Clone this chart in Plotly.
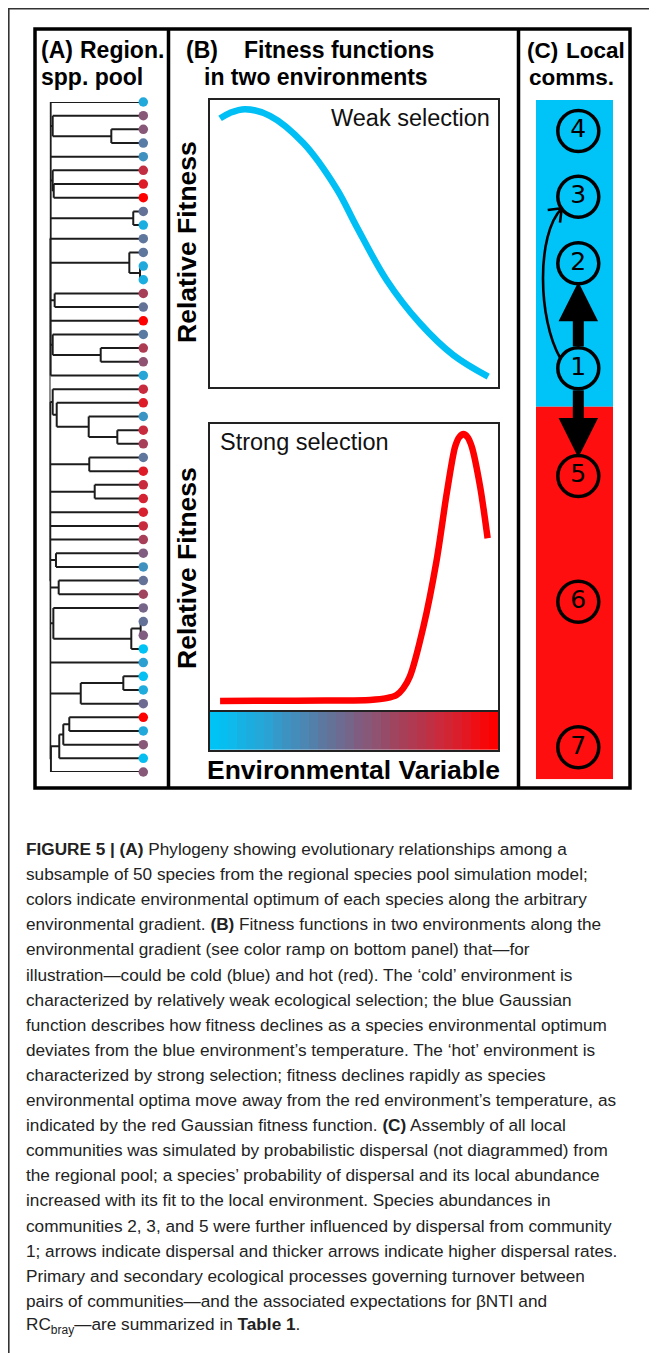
import plotly.graph_objects as go

# page geometry: the figure sits at the browser's default 8px body margin
OFF = 8
W, H = 657 - OFF, 1353 - OFF

# ---------------- DATA ----------------
# Panel A: phylogeny of 50 species (tips numbered top -> bottom).
# Internal node labels = node depth (0 = root, tips = 100).
tree_newick = ("((1,(2,(3,4)65.9)3.4,5,(6,(7,8)4.5)3.4,(9,10)89.3,11,(12,(13,14)96.5)85.1,"
               "(15,16)5.5,17,(18,(19,20)54.6)3.4,21)1.2,"
               "((22,(23,(24,(25,26)72.3)41.8)7.7)3.4,(27,28)42.4,(29,30)48.2,31,32,33,(34,35)6.9,"
               "(36,37)9.8,(38,((39,40)97.2,41)87.2)4.1,42,((43,44)78.7,45)33.3,"
               "((((46,47)21.1,48)14.7,49)10.4,50)1.5)0.8)0")
tip_depth = 100.0
# environmental optimum of each tip (0 = cold/blue, 1 = hot/red)
tip_optimum = [0.15, 0.55, 0.55, 0.37, 0.27, 0.78, 0.88, 1.00, 0.42, 0.12,
               0.40, 0.40, 0.15, 0.12, 0.68, 0.42, 1.00, 0.38, 0.70, 0.58,
               0.17, 0.80, 0.88, 0.25, 0.80, 0.68, 0.40, 0.88, 0.80, 0.85,
               0.86, 0.80, 0.68, 0.52, 0.27, 0.42, 0.65, 0.48, 0.42, 0.52,
               0.00, 0.20, 0.02, 0.14, 0.45, 1.00, 0.15, 0.55, 0.03, 0.55]

env_colorscale = [[0.00, "rgb(0,195,245)"], [0.20, "rgb(45,160,210)"],
                  [0.38, "rgb(90,122,162)"], [0.51, "rgb(125,95,130)"],
                  [0.67, "rgb(165,65,90)"], [0.85, "rgb(212,35,50)"],
                  [1.00, "rgb(255,0,0)"]]

# Panel B: fitness functions (env. variable 0..1, relative fitness 0..1)
weak_x = [0.035, 0.069, 0.122, 0.208, 0.324, 0.440, 0.509, 0.613, 0.729, 0.845, 0.966]
weak_y = [0.936, 0.955, 0.968, 0.945, 0.850, 0.690, 0.559, 0.373, 0.222, 0.111, 0.036]
strong_x = [0.035, 0.200, 0.400, 0.556, 0.613, 0.648, 0.671, 0.694, 0.741, 0.787,
            0.822, 0.851, 0.866, 0.880, 0.894, 0.909, 0.938, 0.964]
strong_y = [0.037, 0.038, 0.039, 0.041, 0.047, 0.058, 0.081, 0.122, 0.295, 0.527,
            0.759, 0.921, 0.955, 0.965, 0.955, 0.921, 0.782, 0.603]
ramp_steps = [0.00, 0.03, 0.06, 0.10, 0.13, 0.16, 0.19, 0.23, 0.26, 0.29, 0.32,
              0.35, 0.39, 0.42, 0.45, 0.48, 0.52, 0.55, 0.58, 0.61, 0.65, 0.68,
              0.71, 0.74, 0.77, 0.81, 0.84, 0.87, 0.90, 0.94, 0.97, 1.00]

# Panel C: local communities along the gradient (position from bottom)
comm_labels = ["1", "2", "3", "4", "5", "6", "7"]
comm_pos = [411.0, 516.0, 582.6, 648.3, 303.3, 177.6, 32.0]
comm_x = 42.3
env_boundary = 372.6
col_width = 77.0
col_height = 679.3
strong_dispersal = [("1", "2"), ("1", "5")]
weak_dispersal = [("1", "3")]

caption_lines = [
    "<b>FIGURE 5 | (A)</b> Phylogeny showing evolutionary relationships among a",
    "subsample of 50 species from the regional species pool simulation model;",
    "colors indicate environmental optimum of each species along the arbitrary",
    "environmental gradient. <b>(B)</b> Fitness functions in two environments along the",
    "environmental gradient (see color ramp on bottom panel) that\u2014for",
    "illustration\u2014could be cold (blue) and hot (red). The \u2018cold\u2019 environment is",
    "characterized by relatively weak ecological selection; the blue Gaussian",
    "function describes how fitness declines as a species environmental optimum",
    "deviates from the blue environment\u2019s temperature. The \u2018hot\u2019 environment is",
    "characterized by strong selection; fitness declines rapidly as species",
    "environmental optima move away from the red environment\u2019s temperature, as",
    "indicated by the red Gaussian fitness function. <b>(C)</b> Assembly of all local",
    "communities was simulated by probabilistic dispersal (not diagrammed) from",
    "the regional pool; a species\u2019 probability of dispersal and its local abundance",
    "increased with its fit to the local environment. Species abundances in",
    "communities 2, 3, and 5 were further influenced by dispersal from community",
    "1; arrows indicate dispersal and thicker arrows indicate higher dispersal rates.",
    "Primary and secondary ecological processes governing turnover between",
    "pairs of communities\u2014and the associated expectations for \u03b2NTI and",
    "RC<sub>bray</sub>\u2014are summarized in <b>Table 1</b>.",
]

# ---------------- helpers ----------------
FONT = "Liberation Sans, Arial, Helvetica, sans-serif"


def px(x):
    return (x - OFF) / W


def py(y):
    return 1 - (y - OFF) / H


def xdom(a, b):
    return [px(a), px(b)]


def ydom(top, bottom):
    return [py(bottom), py(top)]


def parse_newick(s):
    pos = 0

    def label():
        nonlocal pos
        st = pos
        while pos < len(s) and s[pos] not in ",()":
            pos += 1
        return s[st:pos]

    def node():
        nonlocal pos
        if s[pos] == "(":
            pos += 1
            kids = [node()]
            while s[pos] == ",":
                pos += 1
                kids.append(node())
            pos += 1  # ')'
            return {"depth": float(label()), "kids": kids}
        return {"tip": int(label()), "depth": tip_depth, "kids": []}

    return node()


tree = parse_newick(tree_newick)


def assign_y(n):
    if not n["kids"]:
        n["y"] = float(n["tip"])
    else:
        for k in n["kids"]:
            assign_y(k)
        n["y"] = (n["kids"][0]["y"] + n["kids"][-1]["y"]) / 2
    return n


assign_y(tree)
ex, ey = [], []


def edges(n):
    if not n["kids"]:
        return
    ex.extend([n["depth"], n["depth"], None])
    ey.extend([n["kids"][0]["y"], n["kids"][-1]["y"], None])
    for k in n["kids"]:
        ex.extend([n["depth"], k["depth"], None])
        ey.extend([k["y"], k["y"], None])
        edges(k)


edges(tree)

fig = go.Figure()

# Panel A
fig.add_trace(go.Scatter(x=ex, y=ey, mode="lines", line=dict(color="#1c1c1c", width=2),
                         xaxis="x", yaxis="y", hoverinfo="skip", cliponaxis=False))
fig.add_trace(go.Scatter(x=[tip_depth] * len(tip_optimum), y=list(range(1, len(tip_optimum) + 1)),
                         mode="markers", xaxis="x", yaxis="y", cliponaxis=False,
                         marker=dict(size=9.5, color=tip_optimum, colorscale=env_colorscale,
                                     cmin=0, cmax=1, line=dict(width=0))))

# Panel B
fig.add_trace(go.Scatter(x=weak_x, y=weak_y, mode="lines", xaxis="x2", yaxis="y2",
                         line=dict(color="#00bff5", width=6.5, shape="spline", smoothing=1.0)))
fig.add_trace(go.Scatter(x=strong_x, y=strong_y, mode="lines", xaxis="x3", yaxis="y3",
                         line=dict(color="#ff0000", width=6.5, shape="spline", smoothing=0.8)))
fig.add_trace(go.Heatmap(z=[ramp_steps], xaxis="x4", yaxis="y4", colorscale=env_colorscale,
                         zmin=0, zmax=1, showscale=False, hoverinfo="skip"))

# Panel C circles
fig.add_trace(go.Scatter(x=[comm_x] * len(comm_pos), y=comm_pos, mode="markers+text",
                         text=comm_labels, textposition="middle center",
                         textfont=dict(family="DejaVu Sans", size=25, color="black"),
                         xaxis="x5", yaxis="y5", cliponaxis=False,
                         marker=dict(size=41, color="rgba(0,0,0,0)",
                                     line=dict(color="black", width=3.5))))

box_axis = dict(showline=True, mirror=True, linecolor="#222", linewidth=1.5,
                showticklabels=False, ticks="", showgrid=False, zeroline=False)
hidden = dict(visible=False, showgrid=False, zeroline=False)

layout = dict(
    width=W, height=H, margin=dict(l=0, r=0, t=0, b=0),
    paper_bgcolor="white", plot_bgcolor="rgba(0,0,0,0)", showlegend=False,
    xaxis=dict(domain=xdom(49.5, 143.3), range=[0, tip_depth], anchor="y", **hidden),
    yaxis=dict(domain=ydom(102, 772), range=[len(tip_optimum), 1], anchor="x", **hidden),
    xaxis2=dict(domain=xdom(210, 498), range=[0, 1], anchor="y2", **box_axis),
    yaxis2=dict(domain=ydom(100, 387), range=[0, 1], anchor="x2", **box_axis),
    xaxis3=dict(domain=xdom(210, 498), range=[0, 1], anchor="y3", **box_axis),
    yaxis3=dict(domain=ydom(424, 711.7), range=[0, 1], anchor="x3", **box_axis),
    xaxis4=dict(domain=xdom(210, 498), range=[-0.5, len(ramp_steps) - 0.5], anchor="y4", **box_axis),
    yaxis4=dict(domain=ydom(711.7, 750), range=[-0.5, 0.5], anchor="x4", **box_axis),
    xaxis5=dict(domain=xdom(536, 613), range=[0, col_width], anchor="y5", **hidden),
    yaxis5=dict(domain=ydom(100, 779.3), range=[0, col_height], anchor="x5", **hidden),
)

shapes = []
# panel C background (cold above the boundary, hot below)
shapes.append(dict(type="rect", xref="x5 domain", yref="y5", x0=0, x1=1, y0=env_boundary,
                   y1=col_height, fillcolor="#00c3f7", line=dict(width=0), layer="below"))
shapes.append(dict(type="rect", xref="x5 domain", yref="y5", x0=0, x1=1, y0=0,
                   y1=env_boundary, fillcolor="#fe0e0e", line=dict(width=0), layer="below"))

pos_of = dict(zip(comm_labels, comm_pos))
R = 22.0  # circle radius in column units (1 unit = 1 px)
# strong dispersal: thick arrows (shaft + filled head)
for a, b in strong_dispersal:
    ya, yb = pos_of[a], pos_of[b]
    d = 1 if yb > ya else -1
    tail = ya + d * R
    tip = yb - d * (R + 1)
    base = tip - d * 33
    shapes.append(dict(type="line", xref="x5", yref="y5", x0=comm_x, x1=comm_x,
                       y0=tail, y1=base + d * 2, line=dict(color="black", width=11)))
    shapes.append(dict(type="path", xref="x5", yref="y5",
                       path=f"M {comm_x},{tip} L {comm_x - 16.5},{base} L {comm_x + 16.5},{base} Z",
                       fillcolor="black", line=dict(color="black", width=4)))
# weak dispersal: thin curved arrow
for a, b in weak_dispersal:
    ya, yb = pos_of[a], pos_of[b]
    sx, sy = comm_x - 18.2, ya + 10.5
    tx, ty = comm_x - 16.6, yb - 11.6
    path = (f"M {sx},{sy} C {sx - 22},{sy + 38} {tx - 25.7},{ty - 26.2} {tx},{ty} "
            f"M {tx - 14},{ty - 1.7} L {tx},{ty} L {tx - 1.7},{ty - 14.4}")
    shapes.append(dict(type="path", xref="x5", yref="y5", path=path,
                       line=dict(color="black", width=2.6), layer="above"))

# figure frame + dividers
frame = dict(color="black", width=3.5)
shapes.append(dict(type="rect", xref="paper", yref="paper", x0=px(35), x1=px(630),
                   y0=py(788), y1=py(29), line=frame))
for xv in (168.5, 518.5):
    shapes.append(dict(type="line", xref="paper", yref="paper", x0=px(xv), x1=px(xv),
                       y0=py(788), y1=py(29), line=frame))
# page border (top and left)
shapes.append(dict(type="line", xref="paper", yref="paper", x0=0, x1=1, y0=py(8.8), y1=py(8.8),
                   line=dict(color="#333", width=1.6)))
shapes.append(dict(type="line", xref="paper", yref="paper", x0=px(8.8), x1=px(8.8), y0=0, y1=1,
                   line=dict(color="#333", width=1.6)))
layout["shapes"] = shapes

ann = []


def txt(x, y, s, size, bold=False, xanchor="left", angle=0, color="black", family=FONT):
    ann.append(dict(xref="paper", yref="paper", x=px(x), y=py(y), text=(f"<b>{s}</b>" if bold else s),
                    showarrow=False, xanchor=xanchor, yanchor="middle", textangle=angle,
                    font=dict(family=family, size=size, color=color)))


# panel titles
txt(38.5, 50, "(A)", 23, True)
txt(78, 50, "Region.", 23, True)
txt(38.5, 77, "spp. pool", 23, True)
txt(184, 50, "(B)", 23, True)
txt(242, 50, "Fitness functions", 23, True)
txt(315.5, 77, "in two environments", 23, True, xanchor="center")
txt(524.5, 50, "(C)", 22.5, True)
txt(563.5, 50, "Local", 22.5, True)
txt(526.5, 78, "comms.", 22.5, True)

txt(492, 118, "Weak selection", 23.5, xanchor="right", color="#111")
txt(218, 442, "Strong selection", 23.5, color="#111")
txt(187, 242, "Relative Fitness", 26.5, True, xanchor="center", angle=-90)
txt(187, 568, "Relative Fitness", 26.5, True, xanchor="center", angle=-90)
txt(353, 770, "Environmental Variable", 26.5, True, xanchor="center")

# caption
for i, line in enumerate(caption_lines):
    txt(24, 849 + i * 25.1, line, 17.2, color="#222")

layout["annotations"] = ann
fig.update_layout(**layout)
fig.write_html("out.html")
